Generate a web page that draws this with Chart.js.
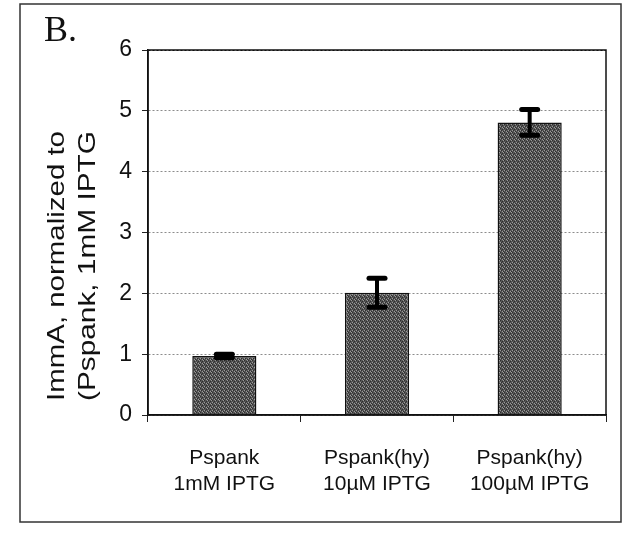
<!DOCTYPE html>
<html>
<head>
<meta charset="utf-8">
<script src="https://cdn.jsdelivr.net/npm/chart.js@4"></script>
<style>
  html, body { margin: 0; padding: 0; background: #fff; }
  #wrap { width: 624px; height: 537px; }
</style>
</head>
<body>
<div id="wrap"><canvas id="canvas" width="624" height="537"></canvas></div>
<script>
// data
var categories = [['Pspank', '1mM IPTG'], ['Pspank(hy)', '10\u00b5M IPTG'], ['Pspank(hy)', '100\u00b5M IPTG']];
var values = [0.97, 2.01, 4.81];
var errors = [0.03, 0.24, 0.21];
var yTicks = [0, 1, 2, 3, 4, 5, 6];
var yTitle = ['ImmA, normalized to', '(Pspank, 1mM IPTG'];
var panelLabel = 'B.';

// speckled grey fill like the scanned bars
function makePattern() {
  var p = document.createElement('canvas');
  p.width = 4; p.height = 4;
  var c = p.getContext('2d');
  c.fillStyle = '#555';
  c.fillRect(0, 0, 4, 4);
  c.fillStyle = '#2e2e2e';
  c.fillRect(0, 0, 1, 1); c.fillRect(2, 1, 1, 1); c.fillRect(1, 2, 1, 1); c.fillRect(3, 3, 1, 1);
  c.fillStyle = '#9a9a9a';
  c.fillRect(2, 3, 1, 1); c.fillRect(0, 2, 1, 1); c.fillRect(3, 0, 1, 1);
  return document.getElementById('canvas').getContext('2d').createPattern(p, 'repeat');
}

var decor = {
  id: 'decor',
  beforeDraw: function(chart) {
    var ctx = chart.ctx;
    ctx.save();
    ctx.fillStyle = '#fff';
    ctx.fillRect(0, 0, chart.width, chart.height);
    // outer frame
    ctx.strokeStyle = '#333';
    ctx.lineWidth = 1.5;
    ctx.strokeRect(20, 4, 601, 518);
    ctx.restore();
  },
  afterDraw: function(chart) {
    var ctx = chart.ctx;
    var a = chart.chartArea;
    var x = chart.scales.x, y = chart.scales.y;
    ctx.save();
    // plot border
    ctx.strokeStyle = '#111';
    ctx.lineWidth = 1.5;
    ctx.setLineDash([]);
    ctx.strokeRect(a.left, a.top, a.right - a.left, a.bottom - a.top);
    // error bars
    ctx.strokeStyle = '#000';
    ctx.lineCap = 'round';
    for (var i = 0; i < values.length; i++) {
      var cx = x.getPixelForValue(i);
      var hi = y.getPixelForValue(values[i] + errors[i]);
      var lo = y.getPixelForValue(values[i] - errors[i]);
      ctx.lineWidth = 4;
      ctx.beginPath(); ctx.moveTo(cx, hi); ctx.lineTo(cx, lo); ctx.stroke();
      ctx.lineWidth = 5;
      ctx.beginPath(); ctx.moveTo(cx - 8, hi); ctx.lineTo(cx + 8, hi); ctx.stroke();
      ctx.beginPath(); ctx.moveTo(cx - 8, lo); ctx.lineTo(cx + 8, lo); ctx.stroke();
    }
    // panel letter
    ctx.fillStyle = '#111';
    ctx.font = '36px "Liberation Serif"';
    ctx.textAlign = 'left';
    ctx.textBaseline = 'alphabetic';
    ctx.fillText(panelLabel, 44, 41);
    // y axis title, two rotated lines
    ctx.font = '24px "Liberation Sans"';
    ctx.textAlign = 'center';
    ctx.textBaseline = 'middle';
    var cy = 266;
    var xs = [57, 88];
    for (var j = 0; j < yTitle.length; j++) {
      ctx.save();
      ctx.translate(xs[j], cy);
      ctx.rotate(-Math.PI / 2);
      var w = ctx.measureText(yTitle[j]).width;
      ctx.scale(270 / w, 1);
      ctx.fillText(yTitle[j], 0, 0);
      ctx.restore();
    }
    ctx.restore();
  }
};

var ctx = document.getElementById('canvas').getContext('2d');
var config = {
  type: 'bar',
  data: {
    labels: categories,
    datasets: [{
      data: values,
      backgroundColor: makePattern(),
      borderColor: '#111',
      borderWidth: 1.5,
      barPercentage: 0.42,
      categoryPercentage: 1
    }]
  },
  options: {
    responsive: false,
    animation: false,
    layout: { padding: { left: 20, right: 18, top: 50, bottom: 0 } },
    plugins: { legend: { display: false }, tooltip: { enabled: false } },
    scales: {
      x: {
        grid: { offset: true, drawOnChartArea: false, drawTicks: true, tickLength: 7, tickColor: '#222', color: '#222' },
        border: { display: true, color: '#111', width: 1.5 },
        ticks: { color: '#111', font: { family: 'Liberation Sans', size: 21 }, padding: 24, maxRotation: 0, autoSkip: false },
        afterFit: function(s) { s.height = 122; }
      },
      y: {
        min: 0,
        max: 6,
        afterBuildTicks: function(s) { s.ticks = yTicks.map(function(v) { return { value: v }; }); },
        grid: {
          color: function(c) { return c.tick && c.tick.value === 6 ? '#111' : '#8c8c8c'; },
          tickBorderDash: [],
          tickColor: '#222',
          tickLength: 6,
          lineWidth: 1
        },
        border: { display: true, color: '#111', width: 1.5, dash: [2, 2] },
        ticks: { color: '#111', font: { family: 'Liberation Sans', size: 23 }, padding: 10 },
        afterFit: function(s) { s.width = 128; }
      }
    }
  },
  plugins: [decor]
};

var chart = new Chart(ctx, config);
</script>
</body>
</html>
